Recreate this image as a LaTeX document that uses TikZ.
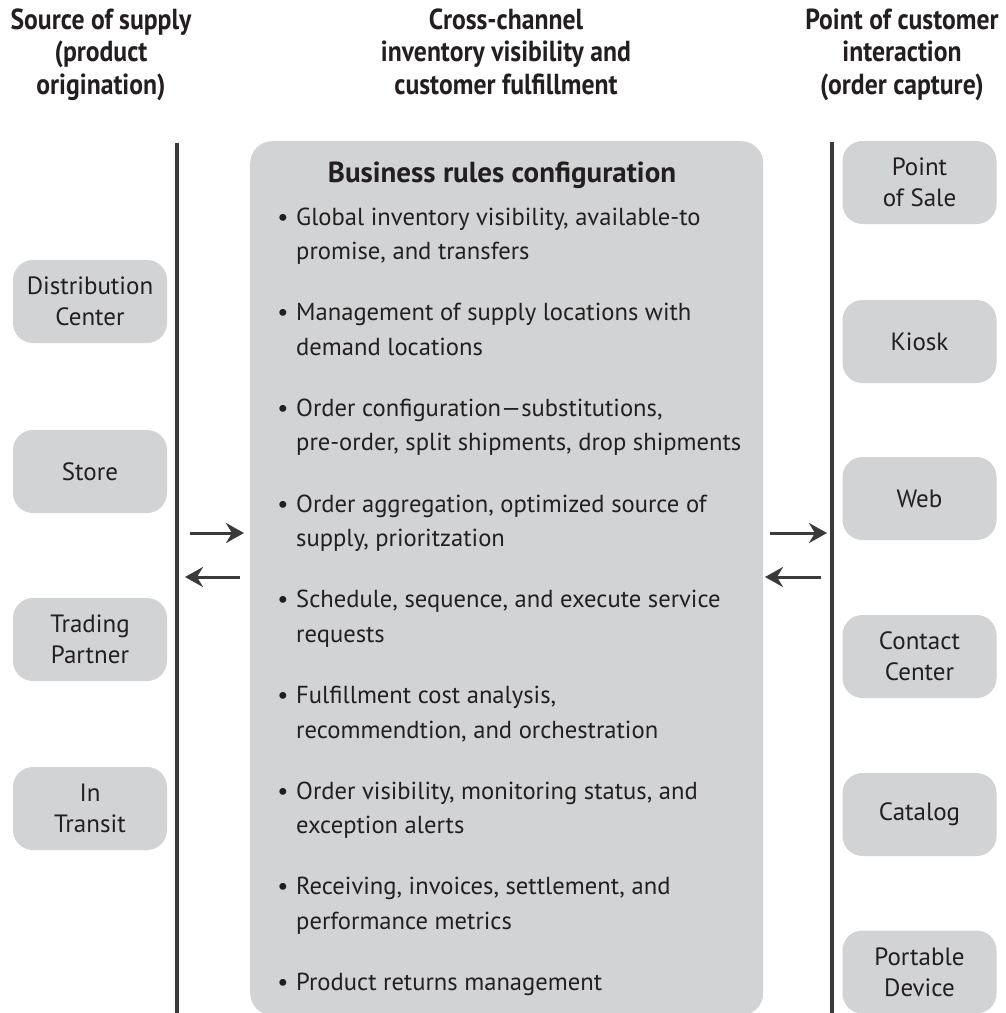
\documentclass[tikz,border=0pt]{standalone}
\usepackage{fontspec}
\setmainfont{PT Sans}
\newfontfamily\hdfont{PT Sans}[FakeStretch=0.885]
\usetikzlibrary{arrows.meta}
\definecolor{boxgray}{HTML}{D1D3D4}
\definecolor{ink}{HTML}{231F20}
\definecolor{linegray}{HTML}{3A3A3C}
\newcommand{\hdlines}[1]{\vtop{\halign{\hfil##\hfil\cr#1\crcr}}}
\newcommand{\itemlines}[1]{\vtop{\halign{##\hfil\cr#1\crcr}}}
\begin{document}
\begin{tikzpicture}[x=1pt,y=-1pt,
  header/.style={anchor=base, inner sep=0pt, text=ink, font=\hdfont\bfseries\fontsize{29}{32.5}\selectfont},
  sidebox/.style={fill=boxgray, rounded corners=20pt, minimum width=154pt, minimum height=83pt,
     align=center, inner sep=0pt, text=ink, font=\fontsize{25}{31}\selectfont},
  corebox/.style={fill=boxgray, rounded corners=22pt, minimum width=513pt, minimum height=874pt,
     anchor=north west, inner sep=0pt},
  bodytext/.style={anchor=base west, inner sep=0pt, text=ink, font=\fontsize{24.6}{34.5}\selectfont},
  bullet/.style={anchor=base, inner sep=0pt, text=ink, font=\fontsize{24.6}{34.5}\selectfont},
  divider/.style={draw=linegray, line width=3.5pt},
  flow/.style={draw=linegray, line width=3pt, -{Stealth[length=18pt,width=20pt,inset=6pt]}}
]
\useasboundingbox (0,0) rectangle (1006,1013);

% headers
\node[header] (hleft) at (101,29) {\hdlines{Source of supply\cr (product\cr origination)}};
\node[header] (hmid) at (506,29) {\hdlines{Cross-channel\cr inventory visibility and\cr customer fulfillment}};
\node[header] (hright) at (902,29) {\hdlines{Point of customer\cr interaction\cr (order capture)}};

% dividers
\coordinate (lt) at (177,143);
\coordinate (lb) at (177,1013);
\coordinate (rt) at (832,142);
\coordinate (rb) at (832,1013);
\draw[divider] (lt) -- (lb);
\draw[divider] (rt) -- (rb);

% left column
\node[sidebox] (dc) at (90,301.5) {Distribution\\Center};
\node[sidebox] (store) at (90,471.5) {Store};
\node[sidebox] (tp) at (90,639.5) {Trading\\Partner};
\node[sidebox] (it) at (90,808.5) {In\\Transit};

% right column
\node[sidebox] (pos) at (919.5,182.5) {Point\\of Sale};
\node[sidebox] (kiosk) at (919.5,341.5) {Kiosk};
\node[sidebox] (web) at (919.5,498.5) {Web};
\node[sidebox] (cc) at (919.5,656.5) {Contact\\Center};
\node[sidebox] (cat) at (919.5,814.5) {Catalog};
\node[sidebox] (pd) at (919.5,972) {Portable\\Device};

% center box
\node[corebox] (core) at (250,141) {};
\node[anchor=base, inner sep=0pt, text=ink, font=\bfseries\fontsize{29}{32}\selectfont] (title) at (502,182) {Business rules configuration};

\foreach \k/\txt in {
  0/{Global inventory visibility, available-to\cr promise, and transfers},
  1/{Management of supply locations with\cr demand locations},
  2/{Order configuration—substitutions,\cr pre-order, split shipments, drop shipments},
  3/{Order aggregation, optimized source of\cr supply, prioritzation},
  4/{Schedule, sequence, and execute service\cr requests},
  5/{Fulfillment cost analysis,\cr recommendtion, and orchestration},
  6/{Order visibility, monitoring status, and\cr exception alerts},
  7/{Receiving, invoices, settlement, and\cr performance metrics},
  8/{Product returns management}}{
  \pgfmathsetmacro{\yy}{225+95.7*\k}
  \node[bullet] (b\k) at (283,\yy) {•};
  \node[bodytext] (item\k) at (296,\yy) {\itemlines{\txt}};
}

% arrows
\coordinate (l1s) at (190,533);
\coordinate (l1e) at (244,533);
\coordinate (l2s) at (240,577);
\coordinate (l2e) at (185,577);
\coordinate (r1s) at (770,533);
\coordinate (r1e) at (827,533);
\coordinate (r2s) at (821,577);
\coordinate (r2e) at (765,577);
\draw[flow] (l1s) -- (l1e);
\draw[flow] (l2s) -- (l2e);
\draw[flow] (r1s) -- (r1e);
\draw[flow] (r2s) -- (r2e);
\end{tikzpicture}
\end{document}
